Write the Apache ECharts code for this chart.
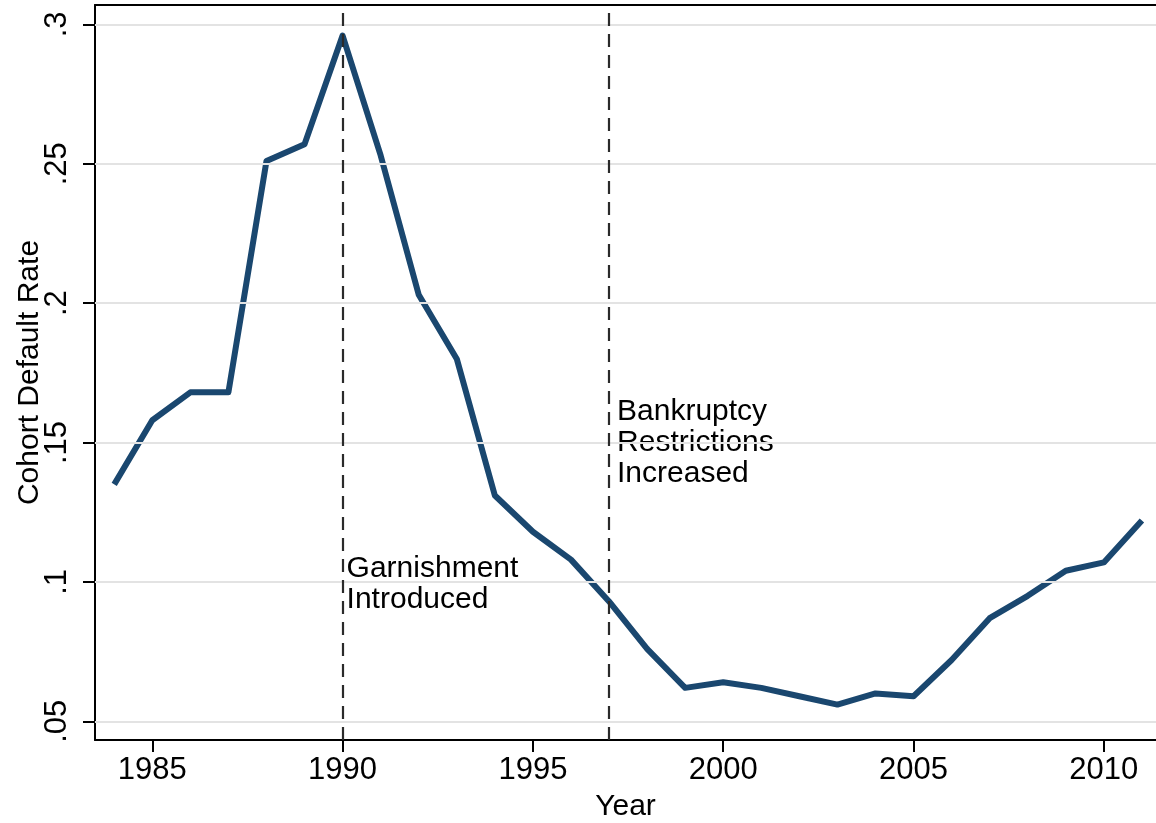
<!DOCTYPE html>
<html lang="en">
  <head>
    <meta charset="UTF-8" />
    <script src="https://cdn.jsdelivr.net/npm/echarts@6/dist/echarts.min.js"></script>
    <title>Cohort default rate</title>
    <style>
      html, body { margin: 0; padding: 0; background: #fff; }
    </style>
  </head>
  <body>
    <div id="container" style="width: 1156px; height: 823px;"></div>

    <script>
      // values
      const years = [1984, 1985, 1986, 1987, 1988, 1989, 1990, 1991, 1992, 1993,
        1994, 1995, 1996, 1997, 1998, 1999, 2000, 2001, 2002, 2003, 2004, 2005,
        2006, 2007, 2008, 2009, 2010, 2011];
      const defaultRate = [0.135, 0.158, 0.168, 0.168, 0.251, 0.257, 0.296, 0.253,
        0.203, 0.180, 0.131, 0.118, 0.108, 0.093, 0.076, 0.062, 0.064, 0.062,
        0.059, 0.056, 0.060, 0.059, 0.072, 0.087, 0.095, 0.104, 0.107, 0.122];

      const xTicks = [1985, 1990, 1995, 2000, 2005, 2010];
      const yTicks = [0.05, 0.1, 0.15, 0.2, 0.25, 0.3];
      const yTickLabels = [".05", ".1", ".15", ".2", ".25", ".3"];

      const eventYears = [1990, 1997];
      const notes = [
        { year: 1990, value: 0.099, text: "Garnishment\nIntroduced" },
        { year: 1997, value: 0.1498, text: "Bankruptcy\nRestrictions\nIncreased" },
      ];

      const font = "'Liberation Sans', Arial, Helvetica, sans-serif";
      const chart = echarts.init(document.getElementById("container"));

      const xMin = 1983.495;
      const xMax = 2011.37;

      const option = {
        animation: false,
        grid: {
          left: 95,
          right: 0,
          top: 5,
          bottom: 83,
          outerBoundsMode: "none",
          containLabel: false,
        },
        xAxis: [
          {
            type: "value",
            min: xMin,
            max: xMax,
            name: "Year",
            nameLocation: "middle",
            nameGap: 52,
            nameMoveOverlap: false,
            nameTextStyle: { fontFamily: font, fontSize: 30, color: "#000" },
            axisLine: { show: true, lineStyle: { color: "#000", width: 2 } },
            axisTick: {
              show: true,
              length: 12,
              lineStyle: { color: "#000", width: 2 },
              customValues: xTicks,
            },
            axisLabel: {
              fontFamily: font,
              fontSize: 31,
              color: "#000",
              margin: 15,
              customValues: xTicks,
              formatter: (v) => String(v),
            },
            splitLine: { show: false },
          },
          {
            // top frame line of the plot region
            type: "value",
            position: "top",
            min: xMin,
            max: xMax,
            axisLine: { show: true, onZero: false, lineStyle: { color: "#000", width: 2 } },
            axisTick: { show: false },
            axisLabel: { show: false },
            splitLine: { show: false },
          },
        ],
        yAxis: {
          type: "value",
          min: 0.04329,
          max: 0.30696,
          name: "Cohort Default Rate",
          nameLocation: "middle",
          nameGap: 50,
          nameMoveOverlap: false,
          nameRotate: 90,
          nameTextStyle: { fontFamily: font, fontSize: 30, color: "#000" },
          axisLine: { show: true, lineStyle: { color: "#000", width: 2 } },
          axisTick: {
            show: true,
            length: 12,
            lineStyle: { color: "#000", width: 2 },
            customValues: yTicks,
          },
          axisLabel: {
            fontFamily: font,
            fontSize: 31,
            color: "#000",
            rotate: 90,
            margin: 22,
            customValues: yTicks,
            formatter: (v) => {
              const i = yTicks.findIndex((t) => Math.abs(t - v) < 1e-6);
              return i >= 0 ? yTickLabels[i] : "";
            },
          },
          splitLine: { show: false },
        },
        series: [
          {
            // light horizontal grid lines at the y ticks
            type: "line",
            data: [],
            silent: true,
            markLine: {
              silent: true,
              symbol: "none",
              label: { show: false },
              lineStyle: { color: "#e3e3e3", width: 2, type: "solid" },
              data: yTicks.map((t) => ({ yAxis: t })),
            },
            z: 1,
          },
          {
            type: "line",
            data: years.map((y, i) => [y, defaultRate[i]]),
            showSymbol: false,
            lineStyle: { color: "#1a476f", width: 6, join: "round" },
            itemStyle: { color: "#1a476f" },
            markLine: {
              silent: true,
              symbol: "none",
              label: { show: false },
              lineStyle: { color: "#2a2a2a", width: 2.2, type: [13, 8] },
              data: eventYears.map((y) => ({ xAxis: y })),
            },
            z: 3,
          },
          {
            type: "scatter",
            symbolSize: 0,
            silent: true,
            itemStyle: { opacity: 1 },
            data: notes.map((n, i) => ({
              value: [n.year, n.value],
              label: {
                show: true,
                position: "right",
                distance: i === 0 ? 4 : 8,
                formatter: n.text,
                fontFamily: font,
                fontSize: 30,
                lineHeight: 31,
                color: "#000",
                opacity: 1,
                textBorderWidth: 0,
                align: "left",
              },
            })),
            z: 4,
          },
        ],
      };

      chart.setOption(option);
    </script>
  </body>
</html>
